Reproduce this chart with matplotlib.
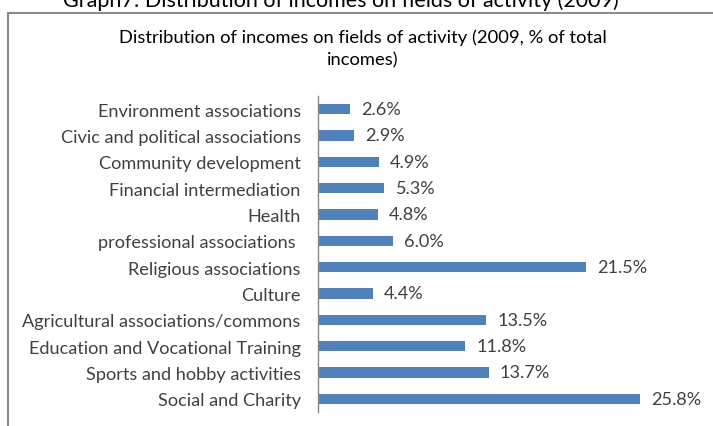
import matplotlib
matplotlib.use("Agg")
import matplotlib.pyplot as plt
from matplotlib.patches import Rectangle

categories = [
    "Environment associations",
    "Civic and political associations",
    "Community development",
    "Financial intermediation",
    "Health",
    "professional associations ",
    "Religious associations",
    "Culture",
    "Agricultural associations/commons",
    "Education and Vocational Training",
    "Sports and hobby activities",
    "Social and Charity",
]
values = [2.6, 2.9, 4.9, 5.3, 4.8, 6.0, 21.5, 4.4, 13.5, 11.8, 13.7, 25.8]
value_labels = ["2.6%", "2.9%", "4.9%", "5.3%", "4.8%", "6.0%",
                "21.5%", "4.4%", "13.5%", "11.8%", "13.7%", "25.8%"]

W, H = 713, 427
plt.rcParams['font.family'] = ['Lato', 'DejaVu Sans']
text_color = "#404040"

fig = plt.figure(figsize=(W / 100, H / 100), dpi=100)

# outer chart frame
fig.patches.append(Rectangle((8 / W, -0.1), 1.1, (H - 14) / H + 0.1,
                             transform=fig.transFigure, fill=False,
                             edgecolor="#8c8c8c", linewidth=1.5))

# caption above the frame
fig.text(341 / W, 1 - 1 / H, "Graph7: Distribution of incomes on fields of activity (2009)",
         ha="center", va="center", fontsize=15.5, color="#000000")

fig.text(363 / W, 1 - 49 / H,
         "Distribution of incomes on fields of activity (2009, % of total\nincomes)",
         ha="center", va="center", fontsize=13.2, color="#000000", linespacing=1.42)

ax = fig.add_axes([318 / W, 1 - 413 / H, 374 / W, 316 / H])
ypos = list(range(len(categories)))
ax.barh(ypos, values, height=0.38, color="#4F81BD")
ax.set_ylim(len(categories) - 0.5, -0.5)
ax.set_xlim(0, 30)
ax.set_yticks(ypos)
ax.set_yticklabels(categories, fontsize=13.1, color=text_color)
ax.tick_params(axis="y", length=0, pad=12.5)
ax.set_xticks([])
for s in ["top", "right", "bottom"]:
    ax.spines[s].set_visible(False)
ax.spines["left"].set_color("#868686")
ax.spines["left"].set_linewidth(1.0)
ax.patch.set_alpha(0)

for y, v, lab in zip(ypos, values, value_labels):
    ax.annotate(lab, (v, y), xytext=(8, 0), textcoords="offset points",
                ha="left", va="center", fontsize=13.1, color=text_color)

fig.savefig("out.png", dpi=100)
